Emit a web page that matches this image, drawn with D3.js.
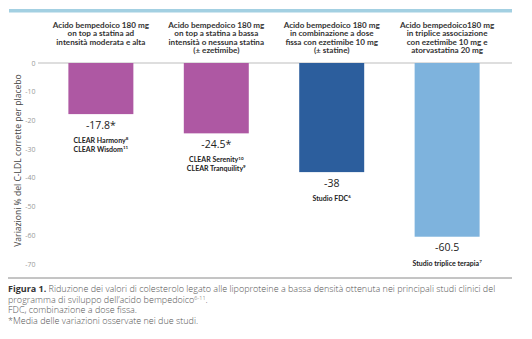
<!DOCTYPE html>
<html>
<head>
<meta charset="utf-8">
<script src="https://cdn.jsdelivr.net/npm/d3@7"></script>
<style>
  body { margin: 0; background: #fff; }
  svg { display: block; }
</style>
</head>
<body>
<svg id="chart" width="532" height="339"></svg>
<script>
// LDL-C change vs placebo in the bempedoic acid studies
var groups = ["harmony", "serenity", "fdc", "triple"];
var values = [-17.8, -24.5, -38, -60.5];
var valueLabels = ["-17.8*", "-24.5*", "-38", "-60.5"];
var headers = [
  ["Acido bempedoico 180 mg", "on top a statina ad", "intensità moderata e alta"],
  ["Acido bempedoico 180 mg", "on top a statina a bassa", "intensità o nessuna statina", "(± ezetimibe)"],
  ["Acido bempedoico 180 mg", "in combinazione a dose", "fissa con ezetimibe 10 mg", "(± statine)"],
  ["Acido bempedoico180 mg", "in triplice associazione", "con ezetimibe 10 mg e", "atorvastatina 20 mg"]
];
// study names, [text, superscript]
var studies = [
  [["CLEAR Harmony", "8"], ["CLEAR Wisdom", "11"]],
  [["CLEAR Serenity", "10"], ["CLEAR Tranquility", "9"]],
  [["Studio FDC", "6"]],
  [["Studio triplice terapia", "7"]]
];
var yTicks = [0, -10, -20, -30, -40, -50, -60, -70];
var colors = ["#ae58a3", "#ae58a3", "#2c5e9d", "#7eb3dd"];

var svg = d3.select("#chart");

var xScale = d3.scaleBand()
    .domain(groups)
    .range([43, 505])
    .paddingInner(0.437)
    .paddingOuter(0.22);

var yScale = d3.scaleLinear()
    .domain([0, -70])
    .range([63, 264]);

// top rule
svg.append("rect")
    .attr("x", 9).attr("y", 9)
    .attr("width", 503).attr("height", 3.5)
    .attr("fill", "#a3d0e2");

// column headers
var hdr = svg.selectAll(".hdr")
    .data(headers)
    .enter().append("text")
    .attr("class", "hdr")
    .attr("text-anchor", "middle")
    .attr("font-family", "Lato")
    .attr("font-weight", 700)
    .attr("font-size", "8.1px")
    .attr("fill", "#333");

hdr.selectAll("tspan")
    .data(function(d, i) { return d.map(function(t) { return {t: t, g: groups[i]}; }); })
    .enter().append("tspan")
    .attr("x", function(d) { return xScale(d.g) + xScale.bandwidth() / 2; })
    .attr("y", function(d, j) { return 27.8 + j * 8.5; })
    .text(function(d) { return d.t; });

// y axis tick labels
svg.selectAll(".tick")
    .data(yTicks)
    .enter().append("text")
    .attr("class", "tick")
    .attr("x", 35.5)
    .attr("y", function(d) { return yScale(d) + 2.5; })
    .attr("text-anchor", "end")
    .attr("font-family", "Open Sans")
    .attr("font-size", "7px")
    .attr("fill", "#9a9a9a")
    .text(function(d) { return d; });

// zero line
svg.append("line")
    .attr("x1", 38).attr("x2", 512)
    .attr("y1", yScale(0)).attr("y2", yScale(0))
    .attr("stroke", "#bdbdbd")
    .attr("stroke-width", 1);

svg.append("text")
    .attr("transform", "translate(21," + (yScale(-35) - 3) + ") rotate(-90)")
    .attr("text-anchor", "middle")
    .attr("font-family", "Open Sans")
    .attr("font-size", "8.6px")
    .attr("fill", "#444")
    .text("Variazioni % del C-LDL corrette per placebo");

// bars
svg.selectAll(".bar")
    .data(values)
    .enter().append("rect")
    .attr("class", "bar")
    .attr("x", function(d, i) { return xScale(groups[i]); })
    .attr("y", yScale(0))
    .attr("width", xScale.bandwidth())
    .attr("height", function(d) { return yScale(d) - yScale(0); })
    .attr("fill", function(d, i) { return colors[i]; });

// value labels
svg.selectAll(".val")
    .data(values)
    .enter().append("text")
    .attr("class", "val")
    .attr("x", function(d, i) { return xScale(groups[i]) + xScale.bandwidth() / 2; })
    .attr("y", function(d) { return yScale(d) + 14.5; })
    .attr("text-anchor", "middle")
    .attr("font-family", "Open Sans")
    .attr("font-size", "10.5px")
    .attr("fill", "#222")
    .text(function(d, i) { return valueLabels[i]; });

// study names under each bar
values.forEach(function(v, i) {
  var cx = xScale(groups[i]) + xScale.bandwidth() / 2;
  studies[i].forEach(function(s, j) {
    var t = svg.append("text")
        .attr("x", cx)
        .attr("y", yScale(v) + 29 + j * 8.8)
        .attr("text-anchor", "middle")
        .attr("font-family", "Lato")
        .attr("font-weight", 700)
        .attr("font-size", "7px")
        .attr("fill", "#222");
    t.append("tspan").text(s[0]);
    t.append("tspan")
        .attr("dy", -2.8)
        .attr("font-size", "4.5px")
        .text(s[1]);
  });
});

// bottom rule
svg.append("line")
    .attr("x1", 8).attr("x2", 512)
    .attr("y1", 278).attr("y2", 278)
    .attr("stroke", "#8a8a8a")
    .attr("stroke-width", 1);

// caption
var cap = svg.append("text")
    .attr("font-family", "Open Sans")
    .attr("font-weight", 300)
    .attr("font-size", "9px")
    .attr("fill", "#555");

var l1 = cap.append("tspan").attr("x", 8).attr("y", 292);
l1.append("tspan").attr("font-weight", 700).attr("fill", "#333").text("Figura 1.");
l1.append("tspan").text(" Riduzione dei valori di colesterolo legato alle lipoproteine a bassa densità ottenuta nei principali studi clinici del");

var l2 = cap.append("tspan").attr("x", 8).attr("y", 302.5);
l2.append("tspan").text("programma di sviluppo dell’acido bempedoico");
l2.append("tspan").attr("dy", -3).attr("font-size", "5.5px").text("6-11");
l2.append("tspan").attr("dy", 3).text(".");

cap.append("tspan").attr("x", 8).attr("y", 313).text("FDC, combinazione a dose fissa.");
cap.append("tspan").attr("x", 8).attr("y", 323.5).text("*Media delle variazioni osservate nei due studi.");
</script>
</body>
</html>
